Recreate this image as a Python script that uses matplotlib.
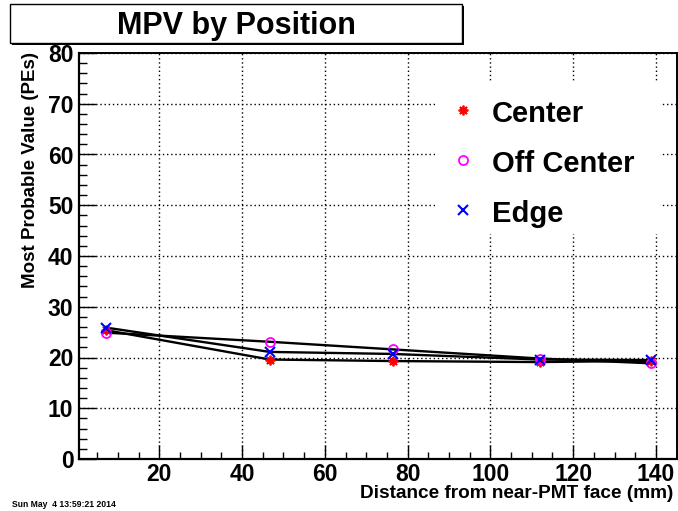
import matplotlib
matplotlib.use("Agg")
import matplotlib.pyplot as plt
from matplotlib.patches import Rectangle
from matplotlib.ticker import MultipleLocator

plt.rcParams["font.family"] = ["Liberation Sans", "DejaVu Sans"]
plt.rcParams["font.weight"] = "bold"

# distance from near-PMT face (mm)
distance = [7.05, 46.7, 76.4, 111.9, 138.9]
# most probable value (PEs)
mpv_center = [25.4, 19.6, 19.3, 19.1, 19.35]
mpv_off_center = [24.9, 23.1, 21.6, 19.8, 18.85]
mpv_edge = [25.9, 21.1, 20.7, 19.6, 19.5]

series = [
    ("Center", mpv_center, dict(marker=(8, 2, 0), color="#ff0000", ms=7, mew=1.3)),
    ("Off Center", mpv_off_center, dict(marker="o", color="#ff00ff", ms=6.5, mew=1.3, mfc="none")),
    ("Edge", mpv_edge, dict(marker="x", color="#0000ff", ms=6.5, mew=1.5)),
]

W, H = 678, 511
fig = plt.figure(figsize=(W / 100, H / 100), dpi=100)
fig.patch.set_facecolor("white")


def fx(px):
    return px / W


def fy(py):
    return 1 - py / H


ax = fig.add_axes([fx(79), fy(459), fx(677) - fx(79), fy(53) - fy(459)])
ax.set_xlim(0.6, 145.1)
ax.set_ylim(0, 80)

ax.xaxis.set_major_locator(MultipleLocator(20))
ax.xaxis.set_minor_locator(MultipleLocator(5))
ax.yaxis.set_major_locator(MultipleLocator(10))
ax.yaxis.set_minor_locator(MultipleLocator(2))
ax.tick_params(axis="both", which="both", direction="in", top=False, right=False,
               width=1.0, labelsize=16.5)
ax.tick_params(axis="y", which="major", length=12, pad=4)
ax.tick_params(axis="y", which="minor", length=6)
ax.tick_params(axis="x", which="major", length=10, pad=3)
ax.tick_params(axis="x", which="minor", length=5)
ax.set_xticks([20, 40, 60, 80, 100, 120, 140])
ax.set_xticklabels(["20", "40", "60", "80", "100", "120", "140"], fontweight="bold")
ax.set_yticks(range(0, 81, 10))
ax.set_yticklabels([str(v) for v in range(0, 81, 10)], fontweight="bold")

ax.grid(True, which="major", color="black", linestyle=(0, (1, 2)), linewidth=1.0)
ax.set_axisbelow(True)
for side in ["left", "bottom"]:
    ax.spines[side].set_linewidth(1.6)
for side in ["top", "right"]:
    ax.spines[side].set_linewidth(1.4)

# white legend area hiding the grid behind it
ax.add_patch(Rectangle((fx(435), fy(234)), fx(660) - fx(435), fy(82) - fy(234),
                       transform=fig.transFigure, facecolor="white",
                       edgecolor="none", zorder=1.5))

for name, values, style in series:
    ax.plot(distance, values, color="black", lw=1.7, zorder=3)
    ax.plot(distance, values, linestyle="none", zorder=4, **style)

# legend entries
for (name, values, style), ypx in zip(series, [110, 160, 210]):
    fig.text(fx(492), fy(ypx + 12), name, fontsize=21, fontweight="bold",
             ha="left", va="baseline")
    fig.add_artist(plt.Line2D([fx(463)], [fy(ypx)], linestyle="none",
                              transform=fig.transFigure, **style))

# title box with shadow
fig.add_artist(Rectangle((fx(12), fy(45)), fx(462) - fx(10), fy(4) - fy(43),
                         transform=fig.transFigure, facecolor="black",
                         edgecolor="none"))
fig.add_artist(Rectangle((fx(10), fy(43)), fx(462) - fx(10), fy(4) - fy(43),
                         transform=fig.transFigure, facecolor="white",
                         edgecolor="black", linewidth=1.0))
fig.text(fx(236), fy(34), "MPV by Position", fontsize=22, fontweight="bold",
         ha="center", va="baseline")

fig.text(fx(31), fy(52), "Most Probable Value (PEs)", fontsize=13.5,
         fontweight="bold", rotation=90, ha="center", va="top")
fig.text(fx(673), fy(498), "Distance from near-PMT face (mm)", fontsize=13.7,
         fontweight="bold", ha="right", va="baseline")
fig.text(fx(12), fy(507), "Sun May  4 13:59:21 2014", fontsize=6.2,
         fontweight="bold", ha="left", va="baseline")

fig.savefig("out.png", dpi=100)
